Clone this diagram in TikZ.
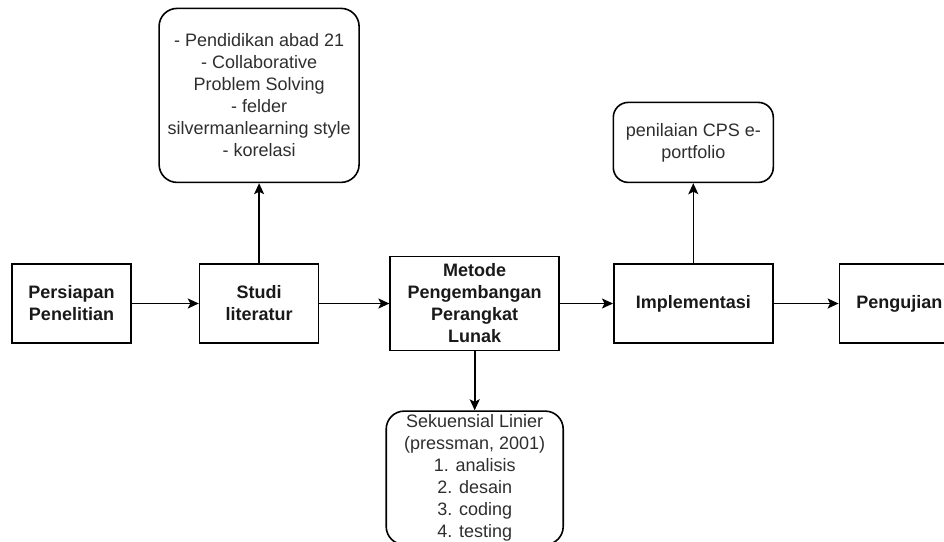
\documentclass[tikz,border=0pt]{standalone}
\usepackage{fontspec}
\setmainfont{Liberation Sans}
\usetikzlibrary{arrows.meta,positioning}
\definecolor{notegray}{HTML}{2E2E2E}
\tikzset{
  block/.style={draw, line width=1.6pt, align=center, minimum height=79pt, minimum width=119pt, font=\fontsize{18}{22}\selectfont\bfseries, text=black!90},
  note/.style={draw, line width=1.6pt, rounded corners=18pt, align=center, font=\fontsize{18}{22}\selectfont, text=notegray},
  flow/.style={-{Stealth[length=11pt, width=10pt, inset=2.5pt]}, line width=1.6pt}
}
\begin{document}
\begin{tikzpicture}[x=1pt, y=-1pt]
\useasboundingbox (0,0) rectangle (944,541);
\node[block] (persiapan) at (71.5,303.5) {Persiapan\\Penelitian};
\node[block, right=67pt of persiapan] (studi) {Studi\\literatur};
\node[block, minimum width=169pt, minimum height=94pt, right=70pt of studi] (metode) {Metode\\Pengembangan\\Perangkat\\Lunak};
\node[block, minimum width=159pt, right=53pt of metode] (implementasi) {Implementasi};
\node[block, minimum width=120pt, right=65pt of implementasi] (pengujian) {Pengujian};
\node[note, minimum width=200pt, minimum height=174pt, above=80pt of studi] (teori) {- Pendidikan abad 21\\- Collaborative\\Problem Solving\\- felder\\silvermanlearning style\\- korelasi};
\node[note, rounded corners=15pt, minimum width=160pt, minimum height=80pt, above=80pt of implementasi] (penilaian) {penilaian CPS e-\\portfolio};
\node[note, minimum width=177pt, minimum height=132pt, below=59pt of metode] (sekuensial) {Sekuensial Linier\\(pressman, 2001)\\1. analisis\\2. desain\\3. coding\\4. testing};
\draw[flow] (persiapan) -- (studi);
\draw[flow] (studi) -- (metode);
\draw[flow] (metode) -- (implementasi);
\draw[flow] (implementasi) -- (pengujian);
\draw[flow] (studi) -- (teori);
\draw[flow] (implementasi) -- (penilaian);
\draw[flow] (metode) -- (sekuensial);
\end{tikzpicture}
\end{document}
